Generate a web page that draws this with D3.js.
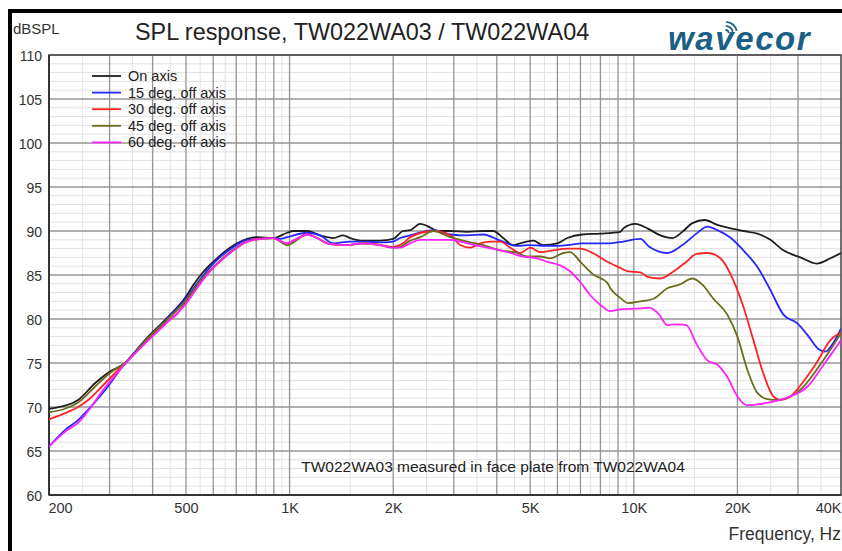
<!DOCTYPE html>
<html lang="en">
  <head>
    <meta charset="UTF-8" />
    <title>SPL response, TW022WA03 / TW022WA04</title>
    <script src="https://d3js.org/d3.v7.min.js"></script>
    <style>
      html, body { margin: 0; padding: 0; background: #fff; }
      svg { display: block; font-family: 'Liberation Sans', Arial, sans-serif; }
      .axis text { fill: #333; }
      .axis .domain, .axis line { display: none; }
    </style>
  </head>
  <body>
    <div id="chart"></div>
    <script>
      // ---- data (frequency Hz, dB SPL) ----
      const onAxis = [
        [200, 69.8], [208, 69.9], [243, 70.8], [272, 72.7], [297, 73.9], [333, 75.0],
        [380, 77.6], [435, 79.9], [497, 82.4], [524, 83.8], [557, 85.2], [600, 86.5],
        [671, 88.1], [753, 89.1], [805, 89.3], [896, 89.2], [984, 89.8], [1024, 90.0],
        [1125, 90.0], [1227, 89.5], [1339, 89.2], [1431, 89.5], [1500, 89.2], [1636, 88.9],
        [1834, 88.9], [2000, 89.1], [2138, 90.0], [2241, 90.1], [2396, 90.8], [2562, 90.4],
        [2686, 90.0], [2930, 90.0], [3282, 89.9], [3653, 90.0], [3906, 90.0], [4175, 89.2],
        [4465, 88.4], [4680, 88.6], [5104, 88.9], [5458, 88.4], [5997, 88.6], [6410, 89.2],
        [7087, 89.6], [7995, 89.7], [9139, 89.9], [9327, 90.3], [10100, 90.8], [10950, 90.3],
        [11950, 89.5], [12950, 89.2], [13840, 89.9], [14800, 90.9], [16070, 91.25], [17500, 90.7],
        [19150, 90.3], [20820, 90.0], [22870, 89.7], [24940, 89.0], [27210, 87.8], [30490, 87.0],
        [34000, 86.3], [37260, 86.9], [40000, 87.5]
      ];
      const deg15 = [
        [200, 65.5], [223, 67.4], [243, 68.5], [260, 69.7], [291, 71.9], [333, 75.0],
        [380, 77.5], [435, 79.8], [497, 82.2], [557, 84.8], [600, 86.3], [671, 87.9],
        [753, 89.0], [896, 89.2], [939, 89.1], [984, 89.3], [1125, 89.8], [1227, 89.5],
        [1339, 88.6], [1500, 88.8], [1636, 88.8], [1834, 88.7], [2000, 88.8], [2096, 89.2],
        [2241, 89.5], [2619, 90.1], [2930, 89.6], [3282, 89.5], [3653, 89.6], [4094, 88.9],
        [4587, 88.3], [4903, 88.4], [5721, 88.3], [6410, 88.4], [7087, 88.6], [7995, 88.6],
        [8546, 88.6], [9327, 88.8], [10450, 89.1], [11090, 88.2], [12520, 87.5], [13840, 88.4],
        [15200, 89.7], [16360, 90.5], [17500, 90.1], [19150, 89.2], [20820, 87.8], [22870, 85.9],
        [24940, 83.3], [27210, 80.5], [29880, 79.5], [31940, 78.2], [34630, 76.5], [36040, 76.3],
        [38020, 77.3], [40000, 78.9]
      ];
      const deg30 = [
        [200, 68.6], [223, 69.3], [243, 70.0], [260, 70.8], [291, 72.7], [333, 75.0],
        [380, 77.3], [435, 79.5], [474, 80.7], [497, 81.8], [557, 84.5], [600, 85.8],
        [671, 87.5], [753, 88.8], [805, 89.1], [896, 89.2], [984, 88.6], [1024, 88.9],
        [1125, 89.6], [1202, 89.2], [1312, 88.5], [1470, 88.4], [1636, 88.6], [1834, 88.4],
        [2000, 88.2], [2138, 88.6], [2241, 89.3], [2619, 90.0], [2930, 89.5], [3132, 88.4],
        [3346, 88.1], [3580, 88.6], [3829, 88.8], [4094, 88.8], [4377, 88.1], [4680, 87.5],
        [5004, 88.1], [5350, 87.6], [5836, 87.8], [6410, 88.0], [6993, 88.0], [7598, 87.5],
        [8380, 86.5], [9139, 85.8], [9641, 85.4], [10450, 85.3], [10950, 84.8], [11950, 84.6],
        [13040, 85.4], [14220, 86.5], [15200, 87.4], [16360, 87.5], [17850, 86.9], [19470, 84.4],
        [20820, 81.4], [22260, 77.6], [23800, 73.8], [25440, 71.2], [26670, 70.8], [28520, 71.2],
        [31110, 72.9], [33940, 75.0], [37260, 77.6], [40000, 78.5]
      ];
      const deg45 = [
        [200, 69.4], [243, 70.5], [272, 72.3], [304, 74.0], [333, 75.0], [380, 77.5],
        [435, 79.7], [497, 82.0], [557, 84.6], [600, 85.9], [671, 87.6], [753, 88.8],
        [896, 89.2], [984, 88.4], [1125, 89.6], [1202, 89.2], [1312, 88.5], [1470, 88.4],
        [1636, 88.6], [1834, 88.4], [2000, 88.1], [2096, 88.2], [2241, 88.9], [2396, 89.3],
        [2619, 90.0], [2930, 89.3], [3282, 88.8], [3653, 88.4], [4094, 87.8], [4587, 87.5],
        [4903, 87.1], [5350, 87.1], [5721, 86.9], [6241, 87.5], [6539, 87.6], [6993, 86.5],
        [7598, 85.1], [8380, 84.1], [8546, 83.5], [9139, 82.4], [9641, 81.8], [10450, 82.0],
        [11400, 82.3], [12520, 83.5], [13570, 83.9], [14800, 84.6], [15820, 83.9], [17030, 82.3],
        [18700, 80.5], [20000, 78.0], [21390, 74.2], [22870, 71.6], [24460, 70.9], [26140, 70.8],
        [28520, 71.2], [31110, 72.3], [33940, 74.2], [37260, 76.5], [40000, 78.4]
      ];
      const deg60 = [
        [200, 65.5], [223, 67.2], [243, 68.2], [291, 72.2], [333, 74.9], [380, 77.2],
        [435, 79.4], [497, 81.6], [557, 84.3], [600, 85.8], [671, 87.5], [753, 88.8],
        [896, 89.2], [984, 88.6], [1024, 88.9], [1125, 89.6], [1202, 89.2], [1312, 88.5],
        [1470, 88.4], [1636, 88.6], [1834, 88.4], [2000, 88.1], [2096, 88.1], [2241, 88.6],
        [2396, 89.0], [2930, 89.0], [3282, 88.6], [3653, 88.2], [4094, 87.8], [4377, 87.5],
        [4774, 87.1], [5240, 86.9], [5608, 86.5], [6118, 86.1], [6539, 85.4], [6993, 84.2],
        [7477, 82.7], [7995, 81.6], [8546, 80.9], [9139, 81.1], [10450, 81.2], [11090, 81.3],
        [11800, 80.6], [12520, 79.3], [13400, 79.4], [14220, 79.3], [15200, 77.2], [16360, 75.3],
        [17500, 74.8], [18700, 73.4], [20000, 71.2], [21390, 70.2], [22870, 70.3], [25440, 70.6],
        [28520, 71.2], [31940, 72.3], [35330, 74.6], [40000, 77.6]
      ];

      const seriesNames = ['On axis', '15 deg. off axis', '30 deg. off axis', '45 deg. off axis', '60 deg. off axis'];
      const seriesColors = ['#1e1e1e', '#2626ff', '#ff2222', '#6c6c1c', '#ff22ff'];
      const seriesData = [onAxis, deg15, deg30, deg45, deg60];

      const yTicks = [60, 65, 70, 75, 80, 85, 90, 95, 100, 105, 110];
      const xTickValues = [200, 500, 1000, 2000, 5000, 10000, 20000, 40000];
      const xTickLabels = ['200', '500', '1K', '2K', '5K', '10K', '20K', '40K'];

      // ---- layout ----
      const W = 842, H = 551;
      const plot = { left: 49, right: 841, top: 55, bottom: 495 };

      const x = d3.scaleLog().domain([200, 40000]).range([plot.left, plot.right]);
      const y = d3.scaleLinear().domain([60, 110]).range([plot.bottom, plot.top]);

      const svg = d3.select('#chart').append('svg')
        .attr('width', W).attr('height', H);

      svg.append('defs').append('clipPath').attr('id', 'plotclip')
        .append('rect')
        .attr('x', plot.left).attr('y', plot.top)
        .attr('width', plot.right - plot.left).attr('height', plot.bottom - plot.top);

      // grid: minor (1 dB / half steps) then major
      const minorY = d3.range(60, 111, 1).filter((v) => v % 5 !== 0);
      const majorX = [], minorX = [];
      [100, 1000, 10000].forEach((dec) => {
        for (let m = 1; m <= 9; m++) {
          majorX.push(m * dec);
          minorX.push((m + 0.5) * dec);
        }
      });
      const inX = (f) => f > 200 && f < 40000;

      const grid = svg.append('g');
      grid.selectAll('line.hmin').data(minorY).join('line')
        .attr('x1', plot.left).attr('x2', plot.right)
        .attr('y1', (d) => y(d)).attr('y2', (d) => y(d))
        .attr('stroke', '#e2e2e2').attr('stroke-width', 1);
      grid.selectAll('line.vmin').data(minorX.filter(inX)).join('line')
        .attr('x1', (d) => x(d)).attr('x2', (d) => x(d))
        .attr('y1', plot.top).attr('y2', plot.bottom)
        .attr('stroke', '#e2e2e2').attr('stroke-width', 1);
      grid.selectAll('line.hmaj').data(yTicks).join('line')
        .attr('x1', plot.left).attr('x2', plot.right)
        .attr('y1', (d) => y(d)).attr('y2', (d) => y(d))
        .attr('stroke', '#949494').attr('stroke-width', 1.3);
      grid.selectAll('line.vmaj').data(majorX.filter(inX)).join('line')
        .attr('x1', (d) => x(d)).attr('x2', (d) => x(d))
        .attr('y1', plot.top).attr('y2', plot.bottom)
        .attr('stroke', '#949494').attr('stroke-width', 1.3);

      // plot frame
      svg.append('rect')
        .attr('x', plot.left).attr('y', plot.top)
        .attr('width', plot.right - plot.left).attr('height', plot.bottom - plot.top)
        .attr('fill', 'none').attr('stroke', '#444').attr('stroke-width', 1.5);
      svg.append('line')
        .attr('x1', plot.left).attr('x2', plot.right)
        .attr('y1', plot.bottom).attr('y2', plot.bottom)
        .attr('stroke', '#333').attr('stroke-width', 2);
      svg.append('line')
        .attr('x1', plot.left).attr('x2', plot.left)
        .attr('y1', plot.top).attr('y2', plot.bottom)
        .attr('stroke', '#333').attr('stroke-width', 2);

      // curves
      const line = d3.line()
        .x((d) => x(d[0]))
        .y((d) => y(d[1]))
        .curve(d3.curveMonotoneX);
      const curves = svg.append('g').attr('clip-path', 'url(#plotclip)');
      seriesData.forEach((s, i) => {
        curves.append('path')
          .datum(s)
          .attr('fill', 'none')
          .attr('stroke', seriesColors[i])
          .attr('stroke-width', 1.8)
          .attr('stroke-linejoin', 'round')
          .attr('d', line);
      });

      // axes (labels only)
      svg.append('g').attr('class', 'axis')
        .attr('transform', `translate(${plot.left - 7},0)`)
        .call(d3.axisLeft(y).tickValues(yTicks).tickSize(0).tickPadding(0))
        .call((g) => g.selectAll('text').attr('font-size', 14).attr('dy', '0.36em'));

      svg.append('g').attr('class', 'axis')
        .attr('transform', `translate(0,${plot.bottom + 6})`)
        .call(d3.axisBottom(x).tickValues(xTickValues).tickSize(0).tickPadding(0)
          .tickFormat((d, i) => xTickLabels[i]))
        .call((g) => g.selectAll('text')
          .attr('font-size', 14.5).attr('dy', '0.85em')
          .attr('text-anchor', (d) => (d === 40000 ? 'end' : 'middle'))
          .attr('dx', (d) => (d === 200 ? 11 : 0)));

      // texts
      svg.append('text').attr('x', 13).attr('y', 34)
        .attr('font-size', 15).attr('fill', '#333').text('dBSPL');
      svg.append('text').attr('x', 135).attr('y', 40)
        .attr('font-size', 23.4).attr('fill', '#222')
        .text('SPL response, TW022WA03 / TW022WA04');
      svg.append('text').attr('x', 493).attr('y', 472)
        .attr('text-anchor', 'middle').attr('font-size', 15.5).attr('fill', '#222')
        .text('TW022WA03 measured in face plate from TW022WA04');
      svg.append('text').attr('x', 841).attr('y', 540)
        .attr('text-anchor', 'end').attr('font-size', 17.5).attr('fill', '#333')
        .text('Frequency, Hz');

      // legend
      const legend = svg.append('g');
      seriesNames.forEach((name, i) => {
        const ly = 76 + i * 16.6;
        legend.append('line')
          .attr('x1', 92).attr('x2', 121).attr('y1', ly).attr('y2', ly)
          .attr('stroke', seriesColors[i]).attr('stroke-width', 1.8);
        legend.append('text')
          .attr('x', 128).attr('y', ly + 5)
          .attr('font-size', 14.5).attr('fill', '#222').text(name);
      });

      // logo
      const logoColor = '#1a5f86';
      svg.append('text').attr('x', 668).attr('y', 50)
        .attr('font-size', 33).attr('font-weight', 900).attr('font-style', 'italic')
        .attr('letter-spacing', 1.6)
        .attr('fill', logoColor).text('wavecor');
      const arcs = svg.append('g').attr('transform', 'translate(725,34)');
      [5, 9, 13].forEach((r) => {
        arcs.append('path')
          .attr('d', d3.arc()({ innerRadius: r - 1.8, outerRadius: r, startAngle: 0.1, endAngle: 1.3 }))
          .attr('fill', logoColor);
      });

      // outer frame (top and left visible)
      svg.append('rect')
        .attr('x', 10).attr('y', 11).attr('width', 900).attr('height', 600)
        .attr('fill', 'none').attr('stroke', '#000').attr('stroke-width', 4);
    </script>
  </body>
</html>
